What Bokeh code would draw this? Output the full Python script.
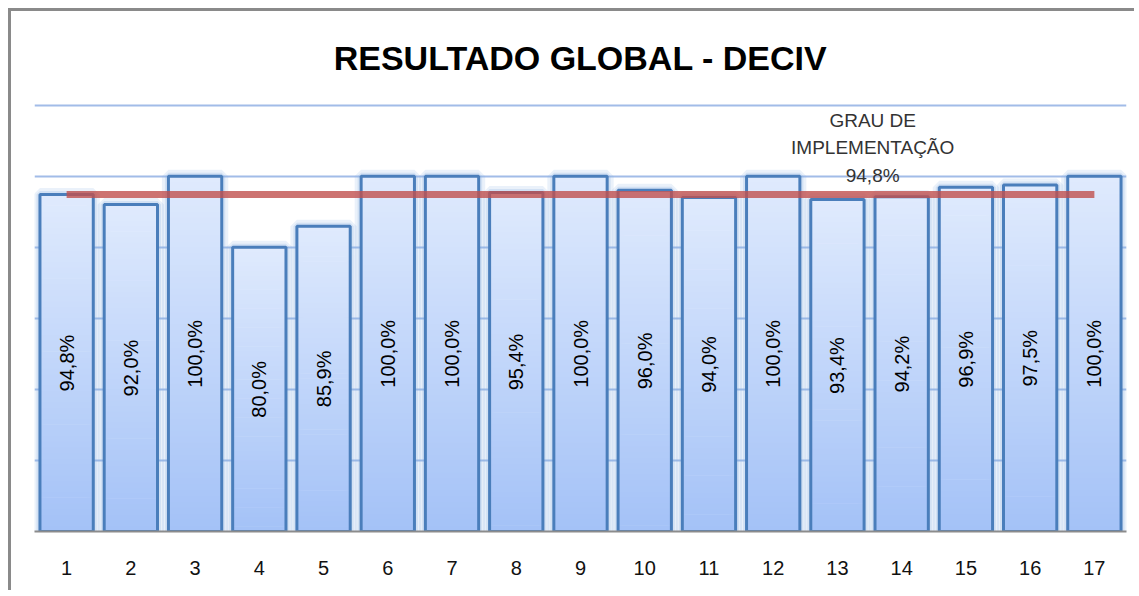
import math
from bokeh.plotting import figure
from bokeh.models import FactorRange, Range1d, FixedTicker, ColumnDataSource
from bokeh.core.properties import value
from bokeh.embed import file_html
from bokeh.resources import INLINE

# ---- data ----
categories = ["1", "2", "3", "4", "5", "6", "7", "8", "9", "10",
              "11", "12", "13", "14", "15", "16", "17"]
results = [94.8, 92.0, 100.0, 80.0, 85.9, 100.0, 100.0, 95.4, 100.0,
           96.0, 94.0, 100.0, 93.4, 94.2, 96.9, 97.5, 100.0]
grau_implementacao = [94.8, 94.8, 94.8, 94.8, 94.8, 94.8, 94.8, 94.8, 94.8,
                      94.8, 94.8, 94.8, 94.8, 94.8, 94.8, 94.8, 94.8]
grau_label = "GRAU DE\nIMPLEMENTAÇÃO\n94,8%"
grau_label_category = "14"
title_text = "RESULTADO GLOBAL - DECIV"
grid_ticks = [20, 40, 60, 80, 100, 120]

# ---- styles ----
BAR_W = 0.83
TOP_RGB = (223, 234, 253)
BOT_RGB = (164, 194, 247)
N_SLICES = 60
FONT = "Liberation Sans"

p = figure(width=1126, height=582, output_backend="svg", toolbar_location=None,
           x_range=FactorRange(factors=categories),
           y_range=Range1d(0, 121),
           min_border_left=23, min_border_right=11,
           min_border_top=90, min_border_bottom=62)
p.styles = {"margin-left": "8px", "margin-top": "8px",
            "border-left": "3px solid #8a8a8a", "border-top": "3px solid #8a8a8a"}
p.outline_line_color = None
p.background_fill_color = "white"
p.border_fill_color = "white"

p.title.text = title_text
p.title.align = "center"
p.title.text_font = FONT
p.title.text_font_style = "bold"
p.title.text_font_size = "34px"
p.title.text_color = "#000000"
p.title.standoff = 49

# grid
p.xgrid.grid_line_color = None
p.ygrid.ticker = FixedTicker(ticks=grid_ticks)
p.ygrid.grid_line_color = "#a2bce8"
p.ygrid.grid_line_width = 2

# axes
p.yaxis.visible = False
p.xaxis.axis_line_color = "#8c8c8c"
p.xaxis.axis_line_width = 2
p.xaxis.major_tick_line_color = None
p.xaxis.minor_tick_line_color = None
p.xaxis.major_tick_out = 0
p.xaxis.major_tick_in = 0
p.xaxis.major_label_standoff = 29
p.xaxis.major_label_text_font = FONT
p.xaxis.major_label_text_font_size = "20px"
p.xaxis.major_label_text_color = "#111111"

# glow behind bars
p.vbar(x=categories, top=results, width=BAR_W, bottom=0,
       fill_color=None, line_color="#8db3e2", line_alpha=0.18, line_width=13)
p.vbar(x=categories, top=results, width=BAR_W, bottom=0,
       fill_color=None, line_color="#8db3e2", line_alpha=0.25, line_width=7)

# gradient bars built from slices of each value
xs, bots, tops, cols = [], [], [], []
for c, v in zip(categories, results):
    for k in range(N_SLICES):
        t = k / (N_SLICES - 1)
        r = round(BOT_RGB[0] + (TOP_RGB[0] - BOT_RGB[0]) * t)
        g = round(BOT_RGB[1] + (TOP_RGB[1] - BOT_RGB[1]) * t)
        b = round(BOT_RGB[2] + (TOP_RGB[2] - BOT_RGB[2]) * t)
        xs.append(c)
        bots.append(v * k / N_SLICES)
        tops.append(v * (k + 1) / N_SLICES + v * 0.002)
        cols.append("#%02x%02x%02x" % (r, g, b))
grad = ColumnDataSource(dict(x=xs, bottom=bots, top=tops, color=cols))
p.vbar(x="x", bottom="bottom", top="top", width=BAR_W, source=grad,
       fill_color="color", line_color=None)

# bar outlines
p.vbar(x=categories, top=results, width=BAR_W, bottom=0,
       fill_color=None, line_color="#4a7ebb", line_width=3)

# value labels inside bars
lab_src = ColumnDataSource(dict(
    x=categories,
    y=[v / 2 for v in results],
    text=[("%.1f" % v).replace(".", ",") + "%" for v in results]))
p.text(x="x", y="y", text="text", source=lab_src, angle=math.pi / 2,
       text_align="center", text_baseline="middle",
       text_font=value(FONT), text_font_size="20px", text_color="#000000")

# average line
p.line(x=categories, y=grau_implementacao, line_color="#c0504d",
       line_alpha=0.8, line_width=7)

# average label
idx = categories.index(grau_label_category)
p.text(x=[grau_label_category], y=[grau_implementacao[idx]], text=[grau_label],
       x_offset=-29, y_offset=-9, text_align="center", text_baseline="bottom",
       text_font=value(FONT), text_font_size="19px", text_color="#333333",
       text_line_height=1.3)

open("out.html", "w").write(file_html(p, INLINE))
